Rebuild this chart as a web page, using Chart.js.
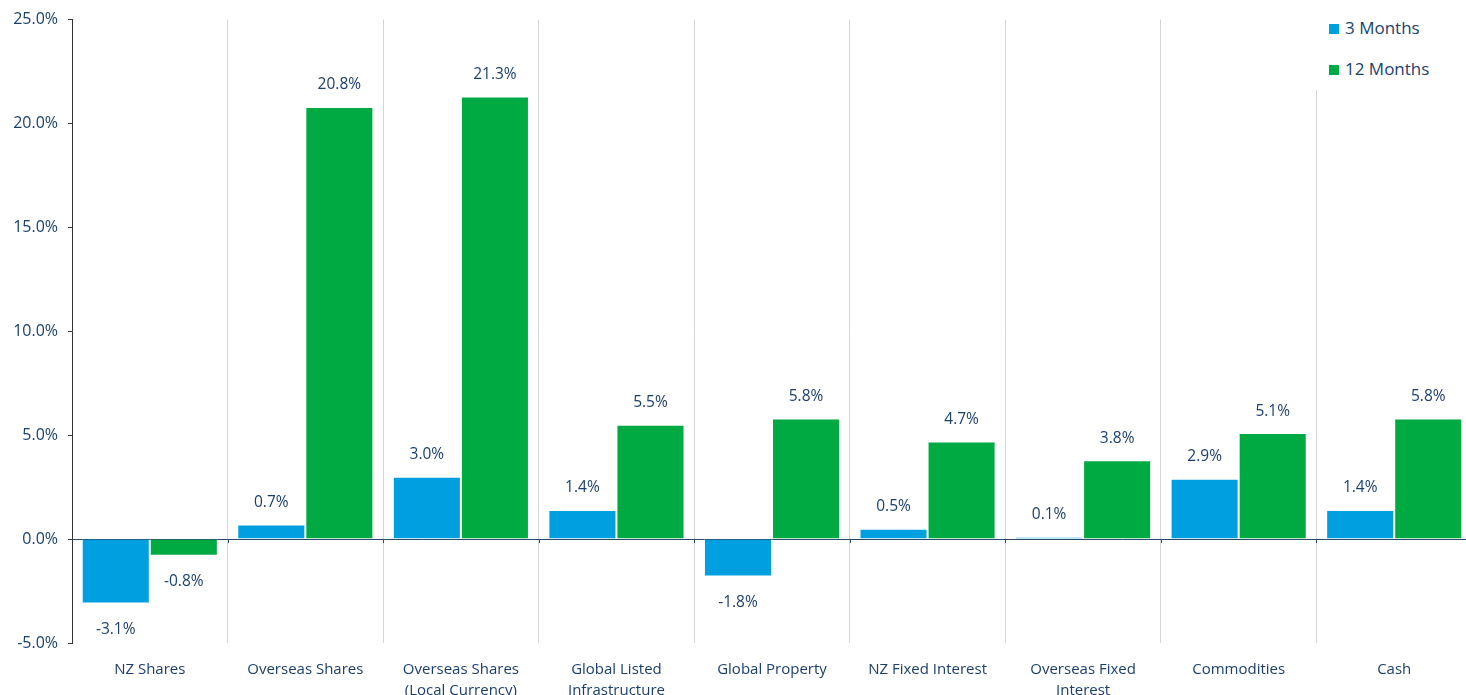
<!DOCTYPE html>
<html>
<head>
<meta charset="utf-8">
<script src="https://cdn.jsdelivr.net/npm/chart.js@4.4.0/dist/chart.umd.min.js"></script>
<style>
  body { margin: 0; overflow: hidden; background: #fff; font-family: "Open Sans", sans-serif; }
  #wrap { position: relative; width: 1480px; height: 720px; }
  #legend { position: absolute; left: 1311px; top: 0; width: 170px; height: 90px; background: #fff; }
  .item { position: absolute; left: 18px; font-size: 17px; color: #1b3f6b; line-height: 20px; }
  .item span { display: inline-block; width: 10px; height: 10px; margin-right: 6px; vertical-align: 0px; }
</style>
</head>
<body>
<div id="wrap">
  <canvas id="returnsChart"></canvas>
  <div id="legend"></div>
</div>
<script>
const categories = [
  "NZ Shares",
  "Overseas Shares",
  ["Overseas Shares", "(Local Currency)"],
  ["Global Listed", "Infrastructure"],
  "Global Property",
  "NZ Fixed Interest",
  ["Overseas Fixed", "Interest"],
  "Commodities",
  "Cash"
];
const threeMonths = [-3.1, 0.7, 3.0, 1.4, -1.8, 0.5, 0.1, 2.9, 1.4];
const twelveMonths = [-0.8, 20.8, 21.3, 5.5, 5.8, 4.7, 3.8, 5.1, 5.8];
const seriesNames = ["3 Months", "12 Months"];
const seriesColors = ["#009fe0", "#00aa42"];

const textColor = "#1b3f6b";

// value labels above / below each bar, plus small ticks on the zero line
const barLabels = {
  id: "barLabels",
  afterDatasetsDraw(chart) {
    const c = chart.ctx;
    const y = chart.scales.y;
    const x = chart.scales.x;
    const zero = y.getPixelForValue(0);
    c.save();
    c.strokeStyle = "#2b4a6b";
    c.lineWidth = 1;
    for (let i = 1; i < categories.length; i++) {
      const gx = Math.round((x.getPixelForValue(i - 1) + x.getPixelForValue(i)) / 2) + 0.5;
      c.beginPath();
      c.moveTo(gx, zero);
      c.lineTo(gx, zero + 4);
      c.stroke();
    }
    c.font = "15.5px 'Open Sans'";
    c.fillStyle = textColor;
    c.textAlign = "center";
    c.textBaseline = "middle";
    chart.data.datasets.forEach((ds, di) => {
      chart.getDatasetMeta(di).data.forEach((bar, i) => {
        const v = ds.data[i];
        const ty = v >= 0 ? bar.y - 22 : bar.y + 26;
        c.fillText(v.toFixed(1) + "%", bar.x, ty);
      });
    });
    c.restore();
  }
};

const ctx = document.getElementById("returnsChart").getContext("2d");
const chart = new Chart(ctx, {
  type: "bar",
  data: {
    labels: categories,
    datasets: [
      { label: seriesNames[0], data: threeMonths, backgroundColor: seriesColors[0], borderColor: "#ffffff", borderWidth: 1 },
      { label: seriesNames[1], data: twelveMonths, backgroundColor: seriesColors[1], borderColor: "#ffffff", borderWidth: 1 }
    ]
  },
  options: {
    responsive: true,
    maintainAspectRatio: false,
    animation: false,
    layout: { padding: { top: 19, right: 8, left: 0, bottom: 0 } },
    plugins: {
      legend: { display: false },
      tooltip: { enabled: false }
    },
    datasets: {
      bar: { categoryPercentage: 0.875, barPercentage: 1.0 }
    },
    scales: {
      x: {
        afterFit(scale) { scale.height = 77; },
        grid: { offset: true, color: "#d6d6d6", drawTicks: false },
        border: { display: false },
        ticks: {
          color: textColor,
          font: { family: "'Open Sans'", size: 15, lineHeight: 1.4 },
          padding: 16,
          maxRotation: 0,
          autoSkip: false
        }
      },
      y: {
        min: -5,
        max: 25,
        afterFit(scale) { scale.width = 72; },
        border: { display: true, color: "#333333" },
        grid: {
          color: (c) => (c.tick && c.tick.value === 0 ? "#2b4a6b" : "transparent"),
          tickColor: "#333333",
          tickLength: 4
        },
        ticks: {
          stepSize: 5,
          color: textColor,
          font: { family: "'Open Sans'", size: 16 },
          padding: 10,
          callback: (v) => v.toFixed(1) + "%"
        }
      }
    }
  },
  plugins: [barLabels]
});

// legend laid over the top right of the plot
const legend = document.getElementById("legend");
seriesNames.forEach((name, i) => {
  const d = document.createElement("div");
  d.className = "item";
  d.style.top = (18 + i * 41) + "px";
  d.innerHTML = '<span style="background:' + seriesColors[i] + '"></span>' + name;
  legend.appendChild(d);
});
</script>
</body>
</html>
